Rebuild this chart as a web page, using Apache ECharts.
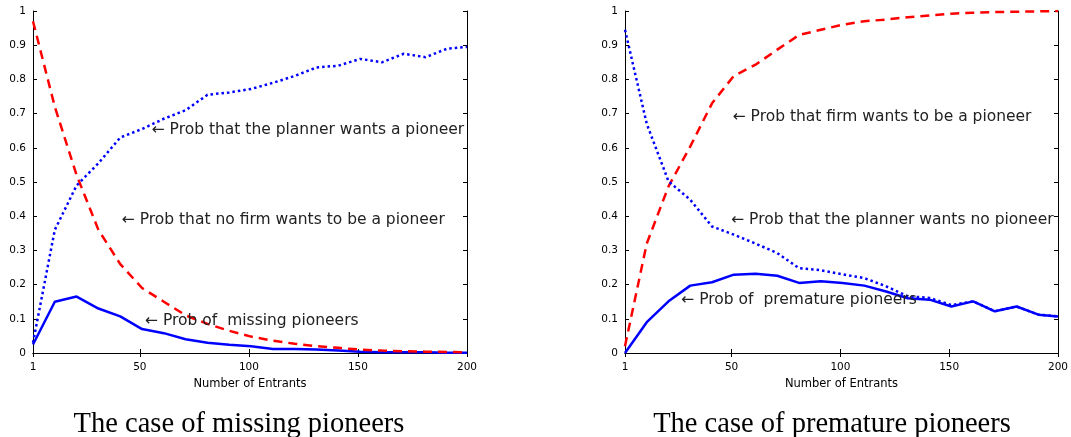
<!DOCTYPE html>
<html>
<head>
<meta charset="utf-8">
<script src="https://cdn.jsdelivr.net/npm/echarts@6/dist/echarts.min.js"></script>
<style>
html,body{margin:0;padding:0;background:#fff;}
#chart{width:1071px;height:437px;}
</style>
</head>
<body>
<div id="chart"></div>
<script>
// ---- data ----
const entrants = [1,11,21,31,41,51,61,71,81,91,101,111,121,131,141,151,161,171,181,191,200];
const xTicks = [1,50,100,150,200];

// Left panel: the case of missing pioneers
const leftMissingPioneers = [0.025,0.15,0.165,0.13,0.107,0.07,0.058,0.04,0.03,0.024,0.02,0.012,0.012,0.01,0.007,0.004,0.002,0.002,0.002,0.001,0.001];
const leftNoFirmWants = [0.97,0.72,0.52,0.36,0.26,0.19,0.15,0.11,0.085,0.065,0.048,0.036,0.027,0.02,0.015,0.01,0.007,0.005,0.004,0.003,0.002];
const leftPlannerWants = [0.03,0.36,0.49,0.555,0.63,0.655,0.685,0.71,0.755,0.762,0.772,0.79,0.81,0.835,0.84,0.86,0.85,0.875,0.865,0.89,0.895];

// Right panel: the case of premature pioneers
const rightPremature = [0,0.09,0.151,0.197,0.207,0.229,0.232,0.226,0.205,0.21,0.205,0.197,0.18,0.16,0.156,0.136,0.151,0.122,0.136,0.112,0.107];
const rightFirmWants = [0.02,0.32,0.487,0.604,0.73,0.81,0.843,0.887,0.93,0.945,0.96,0.97,0.975,0.982,0.987,0.992,0.995,0.997,0.998,0.999,1.0];
const rightPlannerNo = [0.945,0.67,0.502,0.448,0.37,0.346,0.32,0.292,0.248,0.242,0.23,0.219,0.195,0.166,0.161,0.14,0.151,0.122,0.136,0.112,0.107];

// annotations: [text, x, y] in data coordinates
const leftNotes = [
  ['\u2190 Prob that the planner wants a pioneer', 55.4, 0.652],
  ['\u2190 Prob that no firm wants to be a pioneer', 41.7, 0.389],
  ['\u2190 Prob of  missing pioneers', 52.4, 0.094]
];
const rightNotes = [
  ['\u2190 Prob that firm wants to be a pioneer', 50.5, 0.689],
  ['\u2190 Prob that the planner wants no pioneer', 49.8, 0.389],
  ['\u2190 Prob of  premature pioneers', 26.9, 0.155]
];
const captions = ['The case of missing pioneers', 'The case of premature pioneers'];
const xName = 'Number of Entrants';

// ---- chart ----
const chart = echarts.init(document.getElementById('chart'), null, {renderer: 'canvas'});
const SANS = 'DejaVu Sans';
const BLUE = '#0000ff', RED = '#ff0000';

function pairs(arr){ return entrants.map((x,i)=>[x, arr[i]]); }

function xAxes(gi){
  const axLine = {show:true, lineStyle:{color:'#000', width:1}};
  return [
    {type:'value', gridIndex:gi, min:1, max:200, position:'bottom',
     axisLine:axLine,
     axisTick:{show:true, inside:true, length:4, customValues:xTicks, lineStyle:{color:'#000'}},
     axisLabel:{show:true, customValues:xTicks, fontFamily:SANS, fontSize:10.5, color:'#000', margin:9},
     splitLine:{show:false},
     name:xName, nameLocation:'middle', nameGap:25,
     nameTextStyle:{fontFamily:SANS, fontSize:11.5, color:'#000'}},
    {type:'value', gridIndex:gi, min:1, max:200, position:'top',
     axisLine:axLine,
     axisTick:{show:true, inside:true, length:4, customValues:xTicks, lineStyle:{color:'#000'}},
     axisLabel:{show:false}, splitLine:{show:false}}
  ];
}
function yAxes(gi){
  const axLine = {show:true, lineStyle:{color:'#000', width:1}};
  return [
    {type:'value', gridIndex:gi, min:0, max:1, interval:0.1, position:'left',
     axisLine:axLine,
     axisTick:{show:true, inside:true, length:4, lineStyle:{color:'#000'}},
     axisLabel:{show:true, fontFamily:SANS, fontSize:10.5, color:'#000', margin:7,
       formatter:v=>String(Math.round(v*10)/10)},
     splitLine:{show:false}},
    {type:'value', gridIndex:gi, min:0, max:1, interval:0.1, position:'right',
     axisLine:axLine,
     axisTick:{show:true, inside:true, length:4, lineStyle:{color:'#000'}},
     axisLabel:{show:false}, splitLine:{show:false}}
  ];
}
function line(gi, arr, color, type, width){
  return {type:'line', xAxisIndex:gi*2, yAxisIndex:gi*2, data:pairs(arr),
    showSymbol:false, symbol:'none', smooth:false, animation:false, silent:true,
    lineStyle:{color:color, width:width, type:type, cap:'butt'}, z:3};
}

chart.setOption({
  animation:false,
  backgroundColor:'#fff',
  grid:[
    {left:33, right:604, top:11, bottom:84, containLabel:false},
    {left:625, right:11, top:11, bottom:84, containLabel:false}
  ],
  xAxis:[...xAxes(0), ...xAxes(1)],
  yAxis:[...yAxes(0), ...yAxes(1)],
  series:[
    line(0, leftMissingPioneers, BLUE, 'solid', 2.5),
    line(0, leftNoFirmWants, RED, [9,6], 2.5),
    line(0, leftPlannerWants, BLUE, [2.5,3], 2.5),
    line(1, rightPremature, BLUE, 'solid', 2.5),
    line(1, rightFirmWants, RED, [9,6], 2.5),
    line(1, rightPlannerNo, BLUE, [2.5,3], 2.5)
  ]
});

const graphics = [];
function addNotes(notes, gi){
  notes.forEach(n=>{
    const p = chart.convertToPixel({xAxisIndex:gi*2, yAxisIndex:gi*2}, [n[1], n[2]]);
    graphics.push({type:'text', x:p[0], y:p[1], z:10,
      style:{text:n[0], fontFamily:SANS, fontSize:15.5, fill:'#222', align:'left', verticalAlign:'middle'}});
  });
}
addNotes(leftNotes, 0);
addNotes(rightNotes, 1);
graphics.push({type:'text', x:239, y:425, style:{text:captions[0], fontFamily:'Liberation Serif', fontSize:28.5, fill:'#000', align:'center', verticalAlign:'middle'}});
graphics.push({type:'text', x:832, y:425, style:{text:captions[1], fontFamily:'Liberation Serif', fontSize:28.5, fill:'#000', align:'center', verticalAlign:'middle'}});
chart.setOption({graphic:graphics});
</script>
</body>
</html>
